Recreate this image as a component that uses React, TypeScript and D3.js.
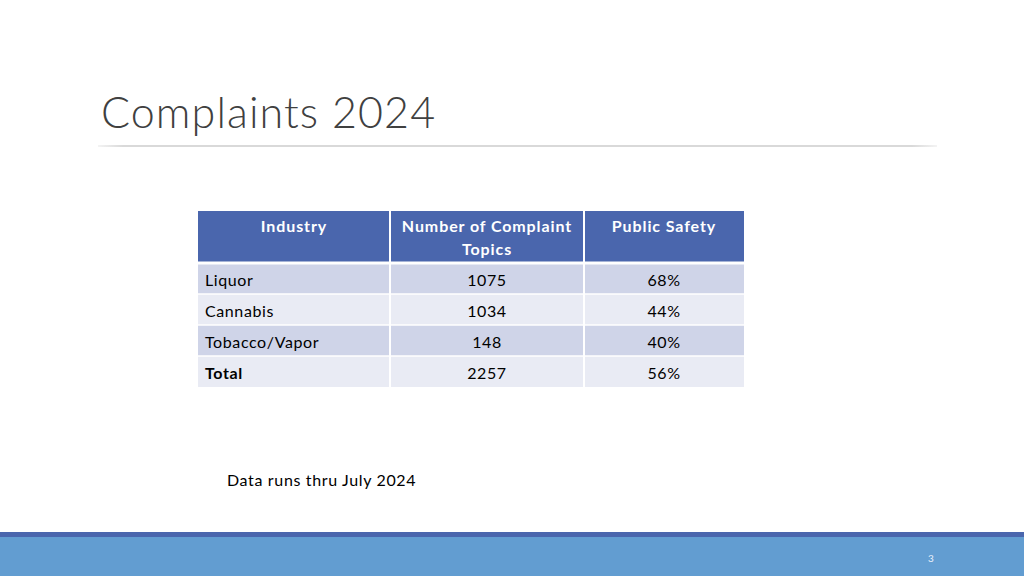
import * as d3 from "d3";
import React, { useEffect, useRef } from "react";

const title = "Complaints 2024";
const headers = ["Industry", "Number of Complaint Topics", "Public Safety"];
const industries = ["Liquor", "Cannabis", "Tobacco/Vapor", "Total"];
const complaintTopics = [1075, 1034, 148, 2257];
const publicSafety = [68, 44, 40, 56];
const note = "Data runs thru July 2024";
const pageNumber = "3";

const width = 1024;
const height = 576;
const font = "Lato, 'Open Sans', sans-serif";

export default function App() {
  const ref = useRef<SVGSVGElement>(null);

  useEffect(() => {
    const svg = d3.select(ref.current);
    svg.selectAll("*").remove();

    svg.append("rect").attr("width", width).attr("height", height).attr("fill", "#fff");

    // title + rule
    svg
      .append("text")
      .attr("x", 101)
      .attr("y", 128)
      .attr("font-family", font)
      .attr("font-weight", 300)
      .attr("font-size", 43)
      .attr("letter-spacing", 1.1)
      .attr("fill", "#404040")
      .text(title);

    const grad = svg.append("defs").append("linearGradient").attr("id", "rule");
    grad.append("stop").attr("offset", "0%").attr("stop-color", "#d9d9d9").attr("stop-opacity", 0.3);
    grad.append("stop").attr("offset", "3%").attr("stop-color", "#d9d9d9");
    grad.append("stop").attr("offset", "97%").attr("stop-color", "#d9d9d9");
    grad.append("stop").attr("offset", "100%").attr("stop-color", "#d9d9d9").attr("stop-opacity", 0.3);
    svg.append("rect").attr("x", 98).attr("y", 145).attr("width", 839).attr("height", 2).attr("fill", "url(#rule)");

    // table
    const colEdges = [198, 390, 584, 744];
    const headerTop = 211;
    const headerBottom = 263;
    const rowH = 31;

    const y = d3
      .scaleBand<string>()
      .domain(industries)
      .range([headerBottom, headerBottom + rowH * industries.length]);

    const table = svg.append("g");

    // header cells
    headers.forEach((h, i) => {
      table
        .append("rect")
        .attr("x", colEdges[i])
        .attr("y", headerTop)
        .attr("width", colEdges[i + 1] - colEdges[i])
        .attr("height", headerBottom - headerTop)
        .attr("fill", "#4a66ad");
    });

    const rows = table
      .selectAll("g.row")
      .data(industries)
      .join("g")
      .attr("class", "row");

    rows.each(function (d, r) {
      const g = d3.select(this);
      const fill = r % 2 === 0 ? "#cfd4e8" : "#e9ebf4";
      for (let c = 0; c < 3; c++) {
        g.append("rect")
          .attr("x", colEdges[c])
          .attr("y", y(d)!)
          .attr("width", colEdges[c + 1] - colEdges[c])
          .attr("height", y.bandwidth())
          .attr("fill", fill);
      }
      const base = y(d)! + y.bandwidth() / 2 + 7;
      const cells = [d, String(complaintTopics[r]), `${publicSafety[r]}%`];
      cells.forEach((t, c) => {
        g.append("text")
          .attr("x", c === 0 ? colEdges[0] + 7 : (colEdges[c] + colEdges[c + 1]) / 2)
          .attr("y", base)
          .attr("text-anchor", c === 0 ? "start" : "middle")
          .attr("font-family", font)
          .attr("font-size", 16)
          .attr("letter-spacing", 0.6)
          .attr("font-weight", d === "Total" && c === 0 ? 700 : 400)
          .attr("fill", "#000")
          .text(t);
      });
    });

    // white grid lines
    const grid = table.append("g").attr("stroke", "#fff").attr("stroke-width", 2);
    colEdges.slice(1, -1).forEach((x) => {
      grid.append("line").attr("x1", x).attr("x2", x).attr("y1", headerTop).attr("y2", y.range()[1]);
    });
    [headerBottom, ...industries.slice(1).map((d) => y(d)!)].forEach((yy, i) => {
      grid
        .append("line")
        .attr("x1", colEdges[0])
        .attr("x2", colEdges[3])
        .attr("y1", yy)
        .attr("y2", yy)
        .attr("stroke-width", i === 0 ? 3 : 1.5);
    });

    // header text
    const headerLines = headers.map((h) => (h === "Number of Complaint Topics" ? ["Number of Complaint", "Topics"] : [h]));
    headerLines.forEach((lines, i) => {
      lines.forEach((line, j) => {
        table
          .append("text")
          .attr("x", (colEdges[i] + colEdges[i + 1]) / 2)
          .attr("y", 232 + j * 23)
          .attr("text-anchor", "middle")
          .attr("font-family", font)
          .attr("font-size", 16)
          .attr("letter-spacing", 0.9)
          .attr("font-weight", 700)
          .attr("fill", "#fff")
          .text(line);
      });
    });

    // note
    svg
      .append("text")
      .attr("x", 227)
      .attr("y", 486)
      .attr("font-family", font)
      .attr("font-size", 16)
      .attr("letter-spacing", 0.65)
      .attr("fill", "#000")
      .text(note);

    // footer band
    svg.append("rect").attr("x", 0).attr("y", 532).attr("width", width).attr("height", 6).attr("fill", "#4a66ad");
    svg.append("rect").attr("x", 0).attr("y", 537).attr("width", width).attr("height", 39).attr("fill", "#629dd1");
    svg
      .append("text")
      .attr("x", 931)
      .attr("y", 562)
      .attr("text-anchor", "middle")
      .attr("font-family", font)
      .attr("font-size", 10)
      .attr("fill", "#e8f0fa")
      .text(pageNumber);
  }, []);

  return (
    <div style={{ position: "fixed", left: 0, top: 0 }}>
      <svg ref={ref} width={width} height={height} viewBox={`0 0 ${width} ${height}`} style={{ display: "block" }} />
    </div>
  );
}
